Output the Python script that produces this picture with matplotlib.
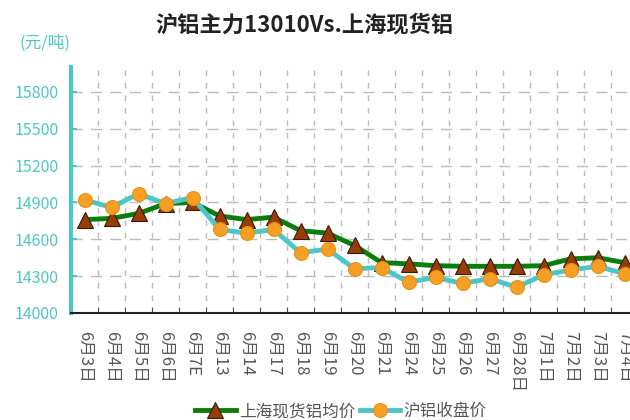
import matplotlib
matplotlib.use('Agg')
import matplotlib.pyplot as plt
import numpy as np

plt.rcParams['font.family'] = ['Noto Sans CJK SC', 'DejaVu Sans']

dates = ['6月3日', '6月4日', '6月5日', '6月6日', '6月7E', '6月13', '6月14', '6月17',
         '6月18', '6月19', '6月20', '6月21', '6月24', '6月25', '6月26', '6月27',
         '6月28日', '7月1日', '7月2日', '7月3日', '7月4日']
spot = [14760, 14770, 14810, 14890, 14900, 14790, 14760, 14780, 14670, 14650, 14550,
        14410, 14400, 14385, 14380, 14380, 14380, 14385, 14440, 14450, 14410]
close = [14920, 14860, 14970, 14890, 14940, 14680, 14650, 14680, 14490, 14520, 14360,
         14370, 14250, 14290, 14240, 14280, 14210, 14310, 14350, 14380, 14320]
yticks = [14000, 14300, 14600, 14900, 15200, 15500, 15800]

teal = '#4cc6c6'
fig = plt.figure(figsize=(6.3, 4.2), dpi=100)
ax = fig.add_axes([0.1127, 0.2548, 0.9, 0.585])

x = np.arange(len(dates))
ax.plot(x, spot, color='#0a7d0a', lw=3.5, marker='^', ms=11,
        mfc='#9a3c08', mec='#3a1a05', mew=0.8, label='上海现货铝均价', zorder=3)
ax.plot(x, close, color=teal, lw=3.5, marker='o', ms=10,
        mfc='#f5a024', mec='#e89010', mew=0.8, label='沪铝收盘价', zorder=4)

ax.set_xlim(-0.5, len(dates) - 0.5)
ax.set_ylim(14000, 16000)
ax.set_yticks(yticks)
ax.tick_params(axis='y', direction='in', colors=teal, labelsize=11.5, length=4,
               width=1.5, pad=9)
ax.set_xticks(x)
ax.set_xticklabels(dates, rotation=270, fontsize=12, color='#555555')
ax.set_xticks(np.arange(len(dates) + 1) - 0.5, minor=True)
ax.tick_params(axis='x', which='major', length=0, pad=13)
ax.tick_params(axis='x', which='minor', direction='in', length=4, color='#333333')

ax.yaxis.grid(True, color='#bbbbbb', ls=(0, (8, 6)), lw=1)
ax.xaxis.grid(True, which='minor', color='#bbbbbb', ls=(0, (4, 5)), lw=1)
ax.set_axisbelow(True)

for s in ('top', 'right'):
    ax.spines[s].set_visible(False)
ax.spines['left'].set_color(teal)
ax.spines['left'].set_linewidth(3)
ax.spines['bottom'].set_color('#222222')
ax.spines['bottom'].set_linewidth(1.5)

fig.text(0.484, 0.94, '沪铝主力13010Vs.上海现货铝', ha='center', va='center',
         fontsize=16, fontweight='bold', color='#222222')
fig.text(0.072, 0.897, '(元/吨)', ha='center', va='center', fontsize=12, color=teal)

fig.legend(loc='center', bbox_to_anchor=(0.541, 0.02), ncol=2, frameon=False,
           fontsize=12, handlelength=2.45, columnspacing=0.25, handletextpad=0.2,
           labelcolor='#555555')

fig.savefig('out.png', dpi=100)
